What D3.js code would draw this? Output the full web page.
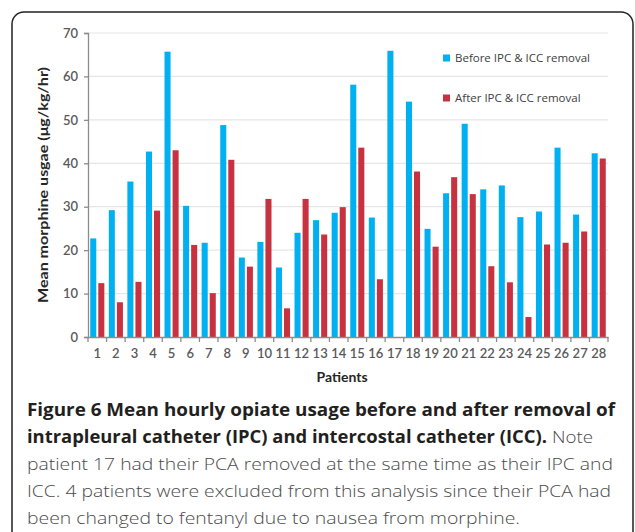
<!DOCTYPE html>
<html>
<head>
<meta charset="utf-8">
<script src="https://cdn.jsdelivr.net/npm/d3@7"></script>
<style>
  html, body { margin: 0; padding: 0; background: #fff; }
  svg { display: block; }
</style>
</head>
<body>
<div id="chart"></div>
<script>
// Figure 6 - mean hourly morphine, before / after IPC & ICC removal

const PATIENTS = d3.range(1, 29).map(String);

const BEFORE = [
  22.7, 29.2, 35.8, 42.7, 65.7, 30.2, 21.7, 48.8, 18.3, 21.9,
  16.0, 24.0, 26.9, 28.6, 58.1, 27.5, 65.9, 54.2, 24.9, 33.1,
  49.1, 34.0, 34.9, 27.6, 28.9, 43.6, 28.2, 42.3
];

const AFTER = [
  12.4, 8.0, 12.7, 29.1, 43.0, 21.2, 10.1, 40.8, 16.2, 31.8,
  6.6, 31.8, 23.6, 29.9, 43.6, 13.3, null, 38.1, 20.8, 36.8,
  32.9, 16.3, 12.6, 4.6, 21.3, 21.7, 24.3, 41.1
];

const SERIES = ["before", "after"];
const SERIES_LABELS = {
  before: "Before IPC & ICC removal",
  after: "After IPC & ICC removal"
};
const COLORS = { before: "#00b0f0", after: "#c8313f" };

const Y_TICKS = [0, 10, 20, 30, 40, 50, 60, 70];

const CAPTION = [
  { parts: [{ t: "Figure 6 Mean hourly opiate usage before and after removal of", bold: true, x0: 27, x1: 615 }] },
  { parts: [
      { t: "intrapleural catheter (IPC) and intercostal catheter (ICC).", bold: true, x0: 27, x1: 547 },
      { t: "Note", bold: false, x0: 552, x1: 593 }
  ] },
  { parts: [{ t: "patient 17 had their PCA removed at the same time as their IPC and", bold: false, x0: 27, x1: 613 }] },
  { parts: [{ t: "ICC. 4 patients were excluded from this analysis since their PCA had", bold: false, x0: 27, x1: 611 }] },
  { parts: [{ t: "been changed to fentanyl due to nausea from morphine.", bold: false, x0: 27, x1: 520 }] }
];

const width = 635, height = 532;
const margin = { top: 33, right: 27, bottom: 195, left: 88 };
const plotW = width - margin.left - margin.right;
const plotH = height - margin.top - margin.bottom;

const svg = d3.select("#chart").append("svg")
  .attr("width", width)
  .attr("height", height);

// outer frame (open at the bottom, runs off the page)
svg.append("rect")
  .attr("x", 12).attr("y", 12)
  .attr("width", 621).attr("height", 620)
  .attr("rx", 12).attr("ry", 12)
  .attr("fill", "none")
  .attr("stroke", "#222")
  .attr("stroke-width", 1.5);

const g = svg.append("g").attr("transform", `translate(${margin.left},${margin.top})`);

const x = d3.scaleBand()
  .domain(PATIENTS)
  .range([0, plotW])
  .paddingInner(0.24)
  .paddingOuter(0.12);

const x1 = d3.scaleBand()
  .domain(SERIES)
  .range([0, x.bandwidth()])
  .paddingInner(0.25);

const y = d3.scaleLinear().domain([0, 70]).range([plotH, 0]);

// gridlines
g.selectAll("line.grid")
  .data(Y_TICKS.filter(d => d > 0))
  .join("line")
  .attr("class", "grid")
  .attr("x1", 0).attr("x2", plotW)
  .attr("y1", d => y(d)).attr("y2", d => y(d))
  .attr("stroke", "#e6e6e6")
  .attr("stroke-width", 1.2);

// bars
const rows = PATIENTS.map((p, i) => ({ patient: p, before: BEFORE[i], after: AFTER[i] }));

g.selectAll("g.patient")
  .data(rows)
  .join("g")
  .attr("class", "patient")
  .attr("transform", d => `translate(${x(d.patient)},0)`)
  .selectAll("rect")
  .data(d => SERIES.filter(s => d[s] != null).map(s => ({ key: s, value: d[s] })))
  .join("rect")
  .attr("x", d => x1(d.key))
  .attr("width", x1.bandwidth())
  .attr("y", d => y(d.value))
  .attr("height", d => y(0) - y(d.value))
  .attr("fill", d => COLORS[d.key]);

// y axis
const yAxis = g.append("g")
  .call(d3.axisLeft(y).tickValues(Y_TICKS).tickSize(4).tickPadding(6));
yAxis.select(".domain").attr("stroke", "#8c8c8c").attr("stroke-width", 1.3);
yAxis.selectAll(".tick line").attr("stroke", "#8c8c8c").attr("stroke-width", 1.3);
yAxis.selectAll(".tick text")
  .attr("fill", "#595959")
  .style("font-family", "Lato, 'Open Sans', sans-serif")
  .style("font-size", "13px")
  .style("font-weight", "600");

// x axis with ticks between the groups
const xAxis = g.append("g").attr("transform", `translate(0,${plotH})`)
  .call(d3.axisBottom(x).tickSize(0).tickPadding(12));
xAxis.select(".domain").attr("stroke", "#8c8c8c").attr("stroke-width", 1.3);
xAxis.selectAll(".tick text")
  .attr("fill", "#595959")
  .style("font-family", "Lato, 'Open Sans', sans-serif")
  .style("font-size", "13px")
  .style("font-weight", "600");

const step = x.step();
const bounds = d3.range(PATIENTS.length + 1).map(i => i === 0 ? 0 : Math.min(plotW, x(PATIENTS[i - 1]) + x.bandwidth() + step * x.paddingInner() / 2));
xAxis.selectAll("line.sep")
  .data(bounds)
  .join("line")
  .attr("class", "sep")
  .attr("x1", d => d).attr("x2", d => d)
  .attr("y1", 0).attr("y2", 5)
  .attr("stroke", "#8c8c8c")
  .attr("stroke-width", 1.3);

// axis titles
svg.append("text")
  .attr("x", margin.left + plotW / 2 - 6)
  .attr("y", 382)
  .attr("text-anchor", "middle")
  .attr("fill", "#262626")
  .style("font-family", "Lato, 'Open Sans', sans-serif")
  .style("font-size", "14px")
  .style("font-weight", "700")
  .text("Patients");

svg.append("text")
  .attr("transform", "translate(48,185) rotate(-90)")
  .attr("text-anchor", "middle")
  .attr("fill", "#262626")
  .attr("textLength", 236)
  .attr("lengthAdjust", "spacingAndGlyphs")
  .style("font-family", "Lato, 'Open Sans', sans-serif")
  .style("font-size", "13.5px")
  .style("font-weight", "700")
  .text("Mean morphine usgae (\u03bcg/kg/hr)");

// legend
const legend = svg.append("g").attr("transform", "translate(443,0)");
SERIES.forEach((s, i) => {
  const cy = 58 + i * 40;
  legend.append("rect")
    .attr("x", 0).attr("y", cy - 3.5)
    .attr("width", 7).attr("height", 7)
    .attr("fill", COLORS[s]);
  legend.append("text")
    .attr("x", 12).attr("y", cy + 4)
    .attr("fill", "#404040")
    .style("font-family", "'Open Sans', sans-serif")
    .style("font-size", "11.5px")
    .text(SERIES_LABELS[s]);
});

// caption
const cap = svg.append("g");
CAPTION.forEach((line, i) => {
  const base = 416 + i * 27;
  line.parts.forEach(p => {
    cap.append("text")
      .attr("x", p.x0)
      .attr("y", base)
      .attr("textLength", p.x1 - p.x0)
      .attr("lengthAdjust", "spacingAndGlyphs")
      .attr("fill", p.bold ? "#231f20" : "#4a4a4a")
      .style("font-family", "'Open Sans', sans-serif")
      .style("font-size", "17px")
      .style("font-weight", p.bold ? "700" : "300")
      .text(p.t);
  });
});
</script>
</body>
</html>
